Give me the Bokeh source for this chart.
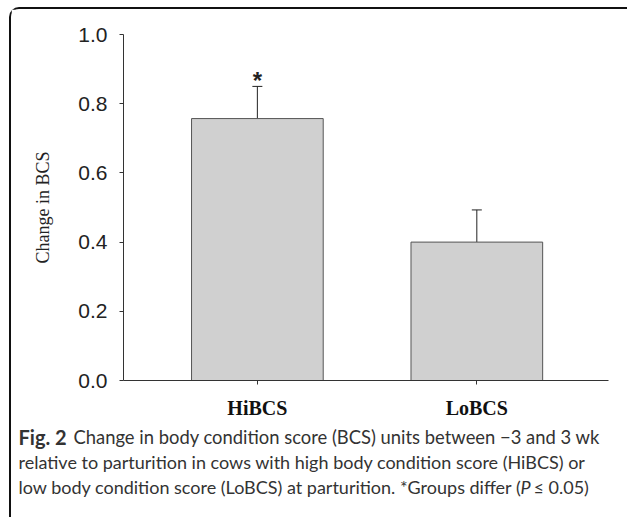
from bokeh.plotting import figure
from bokeh.models import (Range1d, FixedTicker, ColumnDataSource, Whisker,
                          NumeralTickFormatter, Column)
from bokeh.core.properties import value
from bokeh.embed import file_html
from bokeh.resources import INLINE

# Data: mean change in BCS with SE, per group
groups = ["HiBCS", "LoBCS"]
positions = [1, 2]
change_bcs = [0.757, 0.400]
se_bcs = [0.093, 0.093]
y_ticks = [0.0, 0.2, 0.4, 0.6, 0.8, 1.0]

# panel geometry (the panel sits inside a rounded border at top-left)
PANEL_X, PANEL_Y = 11, 9
W = 627 - PANEL_X
CHART_H = 412
CAP_H = 517 - PANEL_Y - CHART_H

p = figure(width=W, height=CHART_H, output_backend="svg", toolbar_location=None,
           x_range=Range1d(0.39, 2.6), y_range=Range1d(0, 1.0),
           min_border_left=123 - PANEL_X, min_border_right=19,
           min_border_top=34 - PANEL_Y, min_border_bottom=CHART_H - (381 - PANEL_Y))
p.outline_line_color = None
p.grid.visible = False
p.frame_align = False

src = ColumnDataSource(dict(x=positions, top=change_bcs,
                            upper=[v + e for v, e in zip(change_bcs, se_bcs)],
                            name=groups))

p.vbar(x="x", top="top", bottom=0, width=0.6, source=src,
       fill_color="#d0d0d0", line_color="#555555", line_width=1)

err = Whisker(base="x", upper="upper", lower="top", source=src,
              line_color="#222222", line_width=1, dimension="height")
err.upper_head.size = 10
err.upper_head.line_color = "#222222"
err.lower_head = None
p.add_layout(err)

# significance marker above HiBCS
p.text(x=[positions[0]], y=[change_bcs[0] + se_bcs[0]], text=["*"],
       text_align="center", text_baseline="bottom", y_offset=8,
       text_font=value("Liberation Sans"), text_font_size="24px",
       text_font_style="bold", text_color="#222222")

# y axis
ya = p.yaxis[0]
ya.ticker = FixedTicker(ticks=y_ticks)
ya.formatter = NumeralTickFormatter(format="0.0")
ya.minor_tick_line_color = None
ya.major_tick_out = 4
ya.major_tick_in = 0
ya.axis_line_color = "#333333"
ya.major_tick_line_color = "#333333"
ya.major_label_text_font = "Liberation Sans"
ya.major_label_text_font_size = "21px"
ya.major_label_text_color = "#222222"
ya.major_label_standoff = 12
ya.axis_label = "Change in BCS"
ya.axis_label_text_font = "Liberation Serif"
ya.axis_label_text_font_size = "18px"
ya.axis_label_text_font_style = "normal"
ya.axis_label_text_color = "#222222"
ya.axis_label_standoff = 22

# x axis
xa = p.xaxis[0]
xa.ticker = FixedTicker(ticks=positions)
xa.major_label_overrides = {1: groups[0], 2: groups[1]}
xa.minor_tick_line_color = None
xa.major_tick_out = 4
xa.major_tick_in = 0
xa.axis_line_color = "#333333"
xa.major_tick_line_color = "#333333"
xa.major_label_text_font = "Liberation Serif"
xa.major_label_text_font_size = "20px"
xa.major_label_text_font_style = "bold"
xa.major_label_text_color = "#111111"
xa.major_label_standoff = 12

# caption panel: a plain canvas in pixel coordinates
c = figure(width=W, height=CAP_H, output_backend="svg", toolbar_location=None,
           x_range=Range1d(0, W), y_range=Range1d(CAP_H, 0),
           min_border=0, outline_line_color=None)
c.axis.visible = False
c.grid.visible = False
c.frame_align = False

FONT = value("Lato")
rows = [
    (18, 436, "Fig. 2", "bold", "20px"),
    (73, 436, "Change in body condition score (BCS) units between \u22123 and 3 wk", "normal", "18.4px"),
    (18, 461, "relative to parturition in cows with high body condition score (HiBCS) or", "normal", "18px"),
    (18, 486, "low body condition score (LoBCS) at parturition. *Groups differ (", "normal", "18px"),
    (520, 486, "P", "italic", "18px"),
    (533, 486, "\u2264 0.05)", "normal", "18px"),
]
for x, y, t, style, size in rows:
    c.text(x=[x - PANEL_X], y=[y - PANEL_Y - CHART_H], text=[t],
           text_font=FONT, text_font_size=size, text_font_style=style,
           text_color="#333333", text_baseline="middle", text_align="left")

layout = Column(p, c, spacing=0, styles={
    "margin-left": "9px", "margin-top": "7px",
    "border-left": "2px solid #111111", "border-top": "2px solid #111111",
    "border-top-left-radius": "10px",
})

open("out.html", "w").write(file_html(layout, INLINE))
